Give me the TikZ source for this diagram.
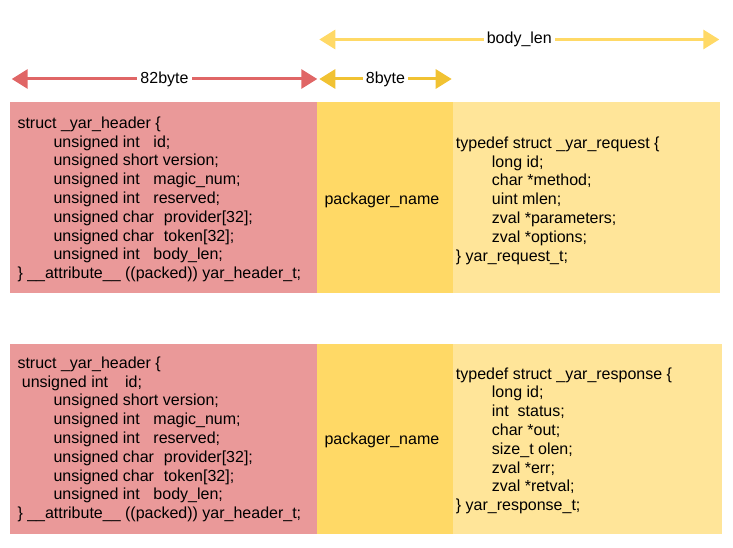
\documentclass[tikz,border=0pt]{standalone}
\usepackage{fontspec}
\setmainfont{Liberation Sans}
\usetikzlibrary{arrows.meta}
\definecolor{hdrred}{HTML}{EA9999}
\definecolor{pkgyel}{HTML}{FFD966}
\definecolor{bodyyel}{HTML}{FFE599}
\definecolor{arrred}{HTML}{E06666}
\definecolor{arryel}{HTML}{F1C232}
\definecolor{arrlight}{HTML}{FFD966}
\newcommand{\ind}{\hspace*{36pt}}
\tikzset{
  dimline/.style={line width=3pt,{Triangle[length=16pt,width=19pt]}-{Triangle[length=16pt,width=19pt]}},
  dimlabel/.style={fill=white,inner xsep=3pt,inner ysep=2pt,font=\fontsize{16pt}{18.8pt}\selectfont},
  codetext/.style={inner sep=0pt,anchor=base west,font=\fontsize{16pt}{18.8pt}\selectfont}
}
\begin{document}
\begin{tikzpicture}[x=1pt,y=-1pt]
\useasboundingbox (0,0) rectangle (733,548);
% boxes top row
\fill[hdrred] (10,102.5) rectangle (317,293.3);
\fill[pkgyel] (317,102.5) rectangle (453,293.3);
\fill[bodyyel] (453,102.5) rectangle (720,293.3);
% boxes bottom row
\fill[hdrred] (10,344) rectangle (317,533.5);
\fill[pkgyel] (317,344) rectangle (453,533.5);
\fill[bodyyel] (453,344) rectangle (721.7,533.5);
% dimension arrows
\coordinate (bl1) at (319.3,39.5);
\coordinate (bl2) at (719.3,39.5);
\coordinate (hb1) at (11.7,79);
\coordinate (hb2) at (317.3,79);
\coordinate (pb1) at (319.3,79);
\coordinate (pb2) at (451.7,79);
\draw[dimline,arrlight] (bl1) -- (bl2) node[dimlabel,text=black,pos=0.5] (bllab) {body\_len};
\draw[dimline,arrred] (hb1) -- (hb2) node[dimlabel,text=black,pos=0.5] (hblab) {82byte};
\draw[dimline,arryel] (pb1) -- (pb2) node[dimlabel,text=black,pos=0.5] (pblab) {8byte};
% top row texts
\node[codetext] (hdr1) at (17.3,128.3) {\begin{tabular}[t]{@{}l@{}}
struct \_yar\_header \{\\
\ind unsigned int\hspace{13.7pt}id;\\
\ind unsigned short version;\\
\ind unsigned int\hspace{13.7pt}magic\_num;\\
\ind unsigned int\hspace{13.7pt}reserved;\\
\ind unsigned char\hspace{10pt}provider[32];\\
\ind unsigned char\hspace{10pt}token[32];\\
\ind unsigned int\hspace{13.7pt}body\_len;\\
\} \_\_attribute\_\_ ((packed)) yar\_header\_t;
\end{tabular}};
\node[codetext] (pkg1) at (324.3,204.3) {packager\_name};
\node[codetext] (req) at (455.7,148.3) {\begin{tabular}[t]{@{}l@{}}
typedef struct \_yar\_request \{\\
\ind long id;\\
\ind char *method;\\
\ind uint mlen;\\
\ind zval *parameters;\\
\ind zval *options;\\
\} yar\_request\_t;
\end{tabular}};
% bottom row texts
\node[codetext] (hdr2) at (17.3,368.3) {\begin{tabular}[t]{@{}l@{}}
struct \_yar\_header \{\\
\hspace*{4.4pt}unsigned int\hspace{17pt}id;\\
\ind unsigned short version;\\
\ind unsigned int\hspace{13.7pt}magic\_num;\\
\ind unsigned int\hspace{13.7pt}reserved;\\
\ind unsigned char\hspace{10pt}provider[32];\\
\ind unsigned char\hspace{10pt}token[32];\\
\ind unsigned int\hspace{13.7pt}body\_len;\\
\} \_\_attribute\_\_ ((packed)) yar\_header\_t;
\end{tabular}};
\node[codetext] (pkg2) at (324.3,444.3) {packager\_name};
\node[codetext] (resp) at (455.7,379) {\begin{tabular}[t]{@{}l@{}}
typedef struct \_yar\_response \{\\
\ind long id;\\
\ind int\hspace{8.9pt}status;\\
\ind char *out;\\
\ind size\_t olen;\\
\ind zval *err;\\
\ind zval *retval;\\
\} yar\_response\_t;
\end{tabular}};
\end{tikzpicture}
\end{document}
